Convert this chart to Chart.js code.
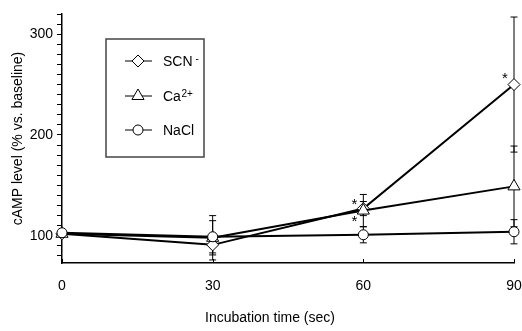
<!DOCTYPE html>
<html>
<head>
<meta charset="utf-8">
<script src="https://cdn.jsdelivr.net/npm/chart.js@4.4.1/dist/chart.umd.min.js"></script>
<style>
  html, body { margin: 0; padding: 0; background: #fff; }
  #wrap { width: 522px; height: 331px; }
</style>
</head>
<body>
<div id="wrap"><canvas id="chart" width="522" height="331"></canvas></div>
<script>
// Time points (sec)
const times = [0, 30, 60, 90];

// Mean cAMP level (% vs. baseline) and error (+/-) per series
const scnMean = [102, 91, 127, 250];
const scnErr = [2, 10, 7, 67];
const caMean = [102, 98, 125, 149];
const caErr = [2, 22, 16, 40];
const naclMean = [103, 99, 101, 104];
const naclErr = [2, 16, 8, 12];

// Significance markers (time, level)
const starTimes = [60, 60, 90];
const starLevels = [134, 117, 259];

// Axis ranges and ticks
const xTicks = [0, 30, 60, 90];
const yMin = 73;
const yMax = 320;
const yMinorStep = 10;
const yLabeled = [100, 200, 300];

const FONT = '"Liberation Sans", Arial, sans-serif';

const series = [
    { label: 'NaCl', mean: naclMean, err: naclErr, style: 'circle', radius: 5, order: 0 },
    { label: 'Ca', mean: caMean, err: caErr, style: 'triangle', radius: 7, order: 1 },
    { label: 'SCN', mean: scnMean, err: scnErr, style: 'rectRot', radius: 6, order: 2 }
];

function toPoints(values) {
    return times.map((t, i) => ({ x: t, y: values[i] }));
}

// Draw error bars under the markers
const errorBars = {
    id: 'errorBars',
    beforeDatasetsDraw(chart) {
        const ctx = chart.ctx;
        const xs = chart.scales.x;
        const ys = chart.scales.y;
        ctx.save();
        ctx.strokeStyle = '#000';
        ctx.lineWidth = 1;
        series.forEach(s => {
            times.forEach((t, i) => {
                const px = xs.getPixelForValue(t);
                const top = ys.getPixelForValue(Math.min(s.mean[i] + s.err[i], yMax));
                const bot = ys.getPixelForValue(Math.max(s.mean[i] - s.err[i], yMin));
                ctx.beginPath();
                ctx.moveTo(px, top);
                ctx.lineTo(px, bot);
                ctx.moveTo(px - 3.5, top);
                ctx.lineTo(px + 3.5, top);
                ctx.moveTo(px - 3.5, bot);
                ctx.lineTo(px + 3.5, bot);
                ctx.stroke();
            });
        });
        ctx.restore();
    }
};

function drawMarker(ctx, style, x, y, r) {
    ctx.beginPath();
    if (style === 'circle') {
        ctx.arc(x, y, r, 0, Math.PI * 2);
    } else if (style === 'triangle') {
        ctx.moveTo(x, y - r);
        ctx.lineTo(x + r * 0.866, y + r * 0.5);
        ctx.lineTo(x - r * 0.866, y + r * 0.5);
        ctx.closePath();
    } else {
        ctx.moveTo(x, y - r);
        ctx.lineTo(x + r, y);
        ctx.lineTo(x, y + r);
        ctx.lineTo(x - r, y);
        ctx.closePath();
    }
    ctx.fillStyle = '#fff';
    ctx.fill();
    ctx.stroke();
}

// Stars, inward x ticks, axis titles and the boxed legend
const extras = {
    id: 'extras',
    afterDraw(chart) {
        const ctx = chart.ctx;
        const xs = chart.scales.x;
        const ys = chart.scales.y;
        const area = chart.chartArea;
        ctx.save();

        // inward ticks on x axis
        ctx.strokeStyle = '#000';
        ctx.lineWidth = 1;
        xTicks.forEach(t => {
            const px = Math.round(xs.getPixelForValue(t)) + 0.5;
            ctx.beginPath();
            ctx.moveTo(px, area.bottom);
            ctx.lineTo(px, area.bottom - 4);
            ctx.stroke();
        });

        // stars
        ctx.fillStyle = '#000';
        ctx.font = '15px ' + FONT;
        ctx.textAlign = 'center';
        ctx.textBaseline = 'middle';
        starTimes.forEach((t, i) => {
            ctx.fillText('*', xs.getPixelForValue(t) - 9, ys.getPixelForValue(starLevels[i]) + 3);
        });

        // axis titles
        ctx.font = '14px ' + FONT;
        ctx.fillText('Incubation time (sec)', 270, 318);
        ctx.save();
        ctx.translate(18, (area.top + area.bottom) / 2);
        ctx.rotate(-Math.PI / 2);
        ctx.fillText('cAMP level (% vs. baseline)', 0, 0);
        ctx.restore();

        // legend box
        ctx.strokeStyle = '#444';
        ctx.lineWidth = 1.5;
        ctx.strokeRect(106, 39, 98, 118);

        const rows = [
            { s: series[2], y: 61, main: 'SCN', sup: '-', gap: 3 },
            { s: series[1], y: 96, main: 'Ca', sup: '2+', gap: 0.5 },
            { s: series[0], y: 130, main: 'NaCl', sup: '', gap: 0 }
        ];
        rows.forEach(r => {
            ctx.strokeStyle = '#000';
            ctx.lineWidth = 1;
            ctx.beginPath();
            ctx.moveTo(125, r.y);
            ctx.lineTo(152, r.y);
            ctx.stroke();
            drawMarker(ctx, r.s.style, 138, r.y, r.s.radius);
            ctx.fillStyle = '#000';
            ctx.textAlign = 'left';
            ctx.textBaseline = 'middle';
            ctx.font = '14px ' + FONT;
            ctx.fillText(r.main, 163, r.y + 1);
            if (r.sup) {
                const w = ctx.measureText(r.main).width;
                ctx.font = '10px ' + FONT;
                ctx.fillText(r.sup, 163 + w + r.gap, r.y - 2);
            }
        });
        ctx.restore();
    }
};

const datasets = series.map(s => ({
    label: s.label,
    data: toPoints(s.mean),
    order: s.order,
    clip: false,
    showLine: true,
    borderColor: '#000',
    borderWidth: 2,
    tension: 0,
    pointStyle: s.style,
    pointRadius: s.radius,
    pointBackgroundColor: '#fff',
    pointBorderColor: '#000',
    pointBorderWidth: 1
}));

new Chart(document.getElementById('chart'), {
    type: 'line',
    data: { datasets: datasets },
    options: {
        responsive: false,
        animation: false,
        devicePixelRatio: 1,
        layout: { padding: { top: 14, right: 8, bottom: 0, left: 0 } },
        plugins: {
            legend: { display: false },
            tooltip: { enabled: false }
        },
        scales: {
            x: {
                type: 'linear',
                min: 0,
                max: 90,
                afterBuildTicks: (scale) => {
                    scale.ticks = xTicks.map(v => ({ value: v }));
                },
                afterFit: (scale) => {
                    scale.height = 68;
                    scale.paddingLeft = 0;
                    scale.paddingRight = 0;
                },
                grid: { display: false, drawTicks: false },
                border: { display: true, color: '#000', width: 1.5 },
                ticks: {
                    color: '#000',
                    font: { family: FONT, size: 14 },
                    padding: 15,
                    maxRotation: 0,
                    autoSkip: false
                }
            },
            y: {
                type: 'linear',
                min: yMin,
                max: yMax,
                afterBuildTicks: (scale) => {
                    const ticks = [];
                    for (let v = Math.ceil(yMin / yMinorStep) * yMinorStep; v <= yMax; v += yMinorStep) {
                        ticks.push({ value: v });
                    }
                    scale.ticks = ticks;
                },
                afterFit: (scale) => {
                    scale.width = 62;
                    scale.paddingTop = 0;
                    scale.paddingBottom = 0;
                },
                grid: {
                    display: true,
                    drawOnChartArea: false,
                    drawTicks: true,
                    tickLength: 5,
                    color: '#000',
                    tickWidth: 1
                },
                border: { display: true, color: '#000', width: 1.5 },
                ticks: {
                    color: '#000',
                    font: { family: FONT, size: 14 },
                    padding: 4,
                    autoSkip: false,
                    callback: (v) => yLabeled.includes(v) ? String(v) : ''
                }
            }
        }
    },
    plugins: [errorBars, extras]
});
</script>
</body>
</html>
